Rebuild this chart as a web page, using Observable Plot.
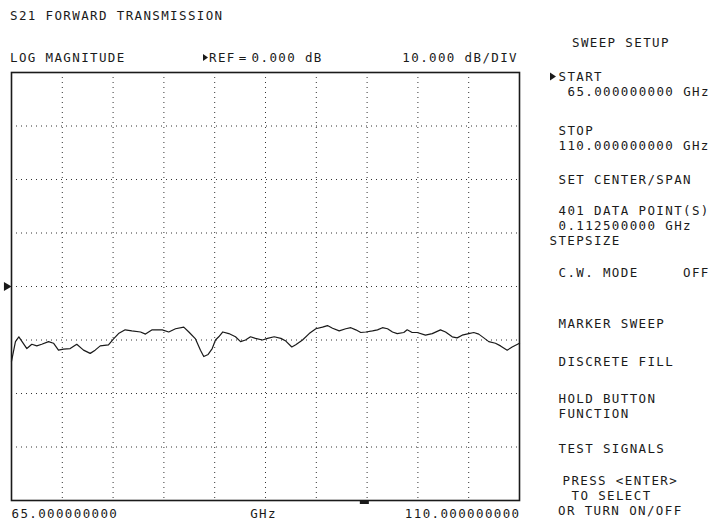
<!DOCTYPE html>
<html>
<head>
<meta charset="utf-8">
<script src="https://cdn.jsdelivr.net/npm/d3@7"></script>
<script src="https://cdn.jsdelivr.net/npm/@observablehq/plot@0.6"></script>
<style>
  html, body { margin: 0; padding: 0; background: #fff; }
  #chart { width: 709px; height: 527px; position: relative; }
</style>
</head>
<body>
<div id="chart"></div>
<script>
// ---- data ----
const freqGHz = [65.00, 65.35, 65.65, 66.36, 66.80, 67.24, 67.68, 68.28, 68.72, 69.16,
  69.61, 70.20, 70.78, 71.38, 71.97, 72.41, 72.86, 73.59, 74.04, 74.48,
  75.07, 75.66, 76.43, 76.87, 77.46, 78.35, 78.93, 79.53, 80.26, 80.71,
  81.30, 81.74, 82.03, 82.42, 82.78, 83.07, 83.36, 83.72, 84.25, 84.84,
  85.29, 85.73, 86.17, 86.61, 87.23, 87.68, 88.27, 88.86, 89.30, 89.83,
  90.18, 90.78, 91.37, 91.96, 92.55, 92.99, 93.44, 94.03, 94.61, 95.06,
  95.50, 95.94, 96.38, 96.98, 97.42, 97.86, 98.31, 98.75, 99.17, 99.75,
  100.05, 100.49, 100.94, 101.67, 102.27, 103.00, 103.45, 104.04, 104.48, 104.92,
  105.51, 105.95, 106.39, 106.84, 107.28, 107.87, 108.32, 108.91, 109.35, 110.00];
const magDB = [-14.0, -10.3, -9.4, -11.6, -10.8, -11.1, -10.8, -10.3, -10.6, -11.9,
  -11.7, -11.6, -10.8, -11.9, -12.5, -11.9, -11.1, -10.9, -9.8, -8.8,
  -8.1, -8.3, -8.5, -8.9, -8.1, -8.1, -8.5, -7.9, -7.6, -8.5,
  -9.8, -11.9, -13.1, -12.7, -11.6, -10.0, -9.4, -8.5, -8.8, -9.4,
  -10.3, -10.0, -9.4, -9.7, -10.0, -9.7, -9.4, -9.7, -10.2, -11.3,
  -10.9, -10.0, -8.8, -7.9, -7.6, -7.3, -7.8, -8.3, -7.9, -7.7,
  -8.1, -8.6, -8.5, -8.3, -8.1, -7.7, -7.9, -8.5, -8.8, -8.6,
  -8.1, -8.6, -8.6, -9.1, -8.8, -8.1, -8.5, -9.4, -9.6, -9.1,
  -8.8, -8.6, -8.9, -9.6, -10.3, -10.6, -11.1, -11.9, -11.3, -10.6];

const xDomain = [65, 110];
const yDomain = [-40, 40];
const xGrid = [69.5, 74, 78.5, 83, 87.5, 92, 96.5, 101, 105.5];
const yGrid = [-30, -20, -10, 0, 10, 20, 30];
const refLevel = [0];
const markerFreq = [96.3];

const startLabel = "65.000000000";
const centerLabel = "GHz";
const stopLabel = "110.000000000";

const titleText = "S21 FORWARD TRANSMISSION";
const formatText = "LOG MAGNITUDE";
const refParts = ["REF", "=", "0.000 dB"];
const scaleText = "10.000 dB/DIV";
const menuTitle = "SWEEP SETUP";
const menuLines = [
  "START",
  "65.000000000 GHz",
  "STOP",
  "110.000000000 GHz",
  "SET CENTER/SPAN",
  "401 DATA POINT(S)",
  "0.112500000 GHz",
  "STEPSIZE",
  "C.W. MODE     OFF",
  "MARKER SWEEP",
  "DISCRETE FILL",
  "HOLD BUTTON",
  "FUNCTION",
  "TEST SIGNALS",
  "PRESS <ENTER>",
  "TO SELECT",
  "OR TURN ON/OFF"
];

const trace = freqGHz.map((f, i) => ({f, db: magDB[i]}));

const FONT = "'DejaVu Sans Mono', 'Liberation Mono', monospace";
const FS = 12.5;
const LS = "1.37px";
const INK = "#1a1a1a";
const labelOpts = {frameAnchor: "bottom", lineAnchor: "bottom", dy: 17, fill: INK, fontSize: FS};

const chart = Plot.plot({
  width: 709,
  height: 527,
  marginTop: 72,
  marginBottom: 27,
  marginLeft: 11,
  marginRight: 190,
  x: {domain: xDomain, axis: null},
  y: {domain: yDomain, axis: null},
  style: {fontFamily: FONT, fontSize: FS + "px", letterSpacing: LS, background: "#fff", color: INK},
  marks: [
    Plot.ruleX(xGrid, {stroke: "#333", strokeWidth: 1, strokeDasharray: "1,4"}),
    Plot.ruleY(yGrid, {stroke: "#333", strokeWidth: 1, strokeDasharray: "1,4"}),
    Plot.line(trace, {x: "f", y: "db", stroke: INK, strokeWidth: 1.2, curve: "linear"}),
    Plot.frame({stroke: INK, strokeWidth: 1.6}),
    Plot.dot(refLevel, {x: () => xDomain[0], y: d => d, symbol: "triangle", rotate: 90, r: 3.3, fill: INK, stroke: "none", dx: -5}),
    Plot.ruleY(markerFreq, {y: () => yDomain[0], x1: d => d - 0.4, x2: d => d + 0.4, stroke: INK, strokeWidth: 3, dy: 2}),
    Plot.text([startLabel], {x: () => xDomain[0], text: d => d, textAnchor: "start", ...labelOpts}),
    Plot.text([centerLabel], {x: () => (xDomain[0] + xDomain[1]) / 2, text: d => d, textAnchor: "middle", dx: -2, ...labelOpts}),
    Plot.text([stopLabel], {x: () => xDomain[1], text: d => d, textAnchor: "end", dx: 1, ...labelOpts})
  ]
});

document.getElementById("chart").appendChild(chart);

const svg = d3.select(chart);
const g = svg.append("g")
  .attr("font-family", FONT)
  .attr("font-size", FS)
  .attr("letter-spacing", LS)
  .attr("text-anchor", "start")
  .attr("fill", INK)
  .style("white-space", "pre");

function label(x, y, t, anchor) {
  return g.append("text").attr("x", x).attr("y", y).attr("text-anchor", anchor || "start")
    .attr("xml:space", "preserve").text(t);
}
function arrow(x, yc, w, h) {
  g.append("path").attr("d", `M${x},${yc - h / 2}L${x + w},${yc}L${x},${yc + h / 2}Z`).attr("fill", INK);
}

label(10, 20, titleText);
label(10, 62, formatText);
arrow(203, 57.5, 5, 7);
const rt = g.append("text").attr("x", 209).attr("y", 62).attr("text-anchor", "start");
rt.append("tspan").text(refParts[0]);
rt.append("tspan").attr("dx", 3).text(refParts[1]);
rt.append("tspan").attr("dx", 4).text(refParts[2]);
label(518, 62, scaleText, "end");
label(572, 47, menuTitle);

const col0 = 558.5;
const LH = 14.7;
const menuPos = [
  [col0, 81], [567.5, 81 + LH], [col0, 135.2], [col0, 135.2 + LH], [col0, 183.5],
  [col0, 215.3], [col0, 215.3 + LH], [549.5, 215.3 + 2 * LH], [col0, 277], [col0, 328],
  [col0, 366], [col0, 403.2], [col0, 403.2 + LH], [col0, 452.5], [562.5, 485.3],
  [571.5, 485.3 + LH], [558, 485.3 + 2 * LH]
];
menuLines.forEach((t, i) => label(menuPos[i][0], menuPos[i][1], t));
arrow(550, 76.5, 6, 8);
</script>
</body>
</html>
